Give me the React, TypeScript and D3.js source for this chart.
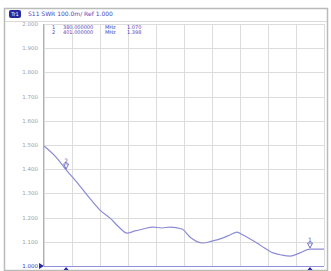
import { useEffect, useRef } from 'react';
import * as d3 from 'd3';

// sweep position (fraction of span) and SWR reading
const SWEEP = [0, 0.043, 0.079, 0.111, 0.157, 0.2, 0.236, 0.271, 0.296, 0.325, 0.354, 0.389, 0.421, 0.45, 0.493, 0.521, 0.568, 0.6, 0.629, 0.664, 0.689, 0.711, 0.743, 0.771, 0.818, 0.85, 0.879, 0.914, 0.95, 0.979, 1];
const SWR = [1.496, 1.45, 1.397, 1.355, 1.289, 1.231, 1.198, 1.157, 1.136, 1.145, 1.153, 1.161, 1.157, 1.161, 1.153, 1.12, 1.095, 1.103, 1.112, 1.128, 1.14, 1.128, 1.107, 1.087, 1.054, 1.045, 1.041, 1.054, 1.07, 1.07, 1.07];
const Y_TICKS = [1.0, 1.1, 1.2, 1.3, 1.4, 1.5, 1.6, 1.7, 1.8, 1.9, 2.0];
const X_TICKS = [0, 0.1, 0.2, 0.3, 0.4, 0.5, 0.6, 0.7, 0.8, 0.9, 1];
const MARKERS = [
  { id: '1', idx: 28, freq: '380.000000', val: '1.070' },
  { id: '2', idx: 2, freq: '401.000000', val: '1.398' },
];
const HEADER = 'S11 SWR 100.0m/ Ref 1.000';

const W = 331;
const H = 271;
const M = { top: 24, right: 7, bottom: 5, left: 44 };

export default function App() {
  const svgRef = useRef<SVGSVGElement>(null);

  useEffect(() => {
    if (!svgRef.current) return;
    const svg = d3.select(svgRef.current);
    svg.selectAll('*').remove();

    const x = d3.scaleLinear([0, 1], [M.left, W - M.right]);
    const y = d3.scaleLinear([1, 2], [H - M.bottom, M.top]);

    svg.append('rect').attr('width', W).attr('height', H).attr('fill', '#fff');

    // outer frame
    svg.append('rect')
      .attr('x', 4.5).attr('y', 8.5).attr('width', W - 8).attr('height', H - 9)
      .attr('fill', 'none').attr('stroke', '#b8bcb8').attr('stroke-width', 1.5);
    svg.append('line')
      .attr('x1', 5).attr('x2', W - 4).attr('y1', 21.5).attr('y2', 21.5)
      .attr('stroke', '#dadada');

    // grid
    const grid = svg.append('g').attr('stroke', '#dcdcdc').attr('stroke-width', 1);
    X_TICKS.forEach(t => {
      grid.append('line')
        .attr('x1', Math.round(x(t)) + 0.5).attr('x2', Math.round(x(t)) + 0.5)
        .attr('y1', y(2)).attr('y2', y(1));
    });
    Y_TICKS.forEach(v => {
      grid.append('line')
        .attr('x1', x(0)).attr('x2', x(1))
        .attr('y1', Math.round(y(v)) + 0.5).attr('y2', Math.round(y(v)) + 0.5);
    });
    svg.append('line')
      .attr('x1', x(0) - 0.5).attr('x2', x(0) - 0.5).attr('y1', y(2)).attr('y2', y(1))
      .attr('stroke', '#b0b0b0');

    // y labels
    Y_TICKS.forEach(v => {
      svg.append('text')
        .attr('x', 38).attr('y', y(v) + 2)
        .attr('text-anchor', 'end')
        .attr('font-family', 'DejaVu Sans')
        .attr('font-size', 5.5)
        .attr('fill', v === 1 ? '#4040c0' : '#a0a0a0')
        .text(v.toFixed(3));
    });

    // reference indicator + bottom line
    svg.append('path')
      .attr('d', `M${x(0) - 5},${y(1) - 3}L${x(0)},${y(1)}L${x(0) - 5},${y(1) + 3}Z`)
      .attr('fill', '#2a2aa0');
    svg.append('line')
      .attr('x1', x(0)).attr('x2', x(1)).attr('y1', y(1) + 0.5).attr('y2', y(1) + 0.5)
      .attr('stroke', '#9090dc');

    // trace
    const pts = SWEEP.map((s, i) => [s, SWR[i]] as [number, number]);
    svg.append('path')
      .attr('d', d3.line<[number, number]>().x(d => x(d[0])).y(d => y(d[1])).curve(d3.curveMonotoneX)(pts) ?? '')
      .attr('fill', 'none')
      .attr('stroke', '#8c8cd6')
      .attr('stroke-width', 1.2);

    // markers
    MARKERS.forEach(m => {
      const mx = x(SWEEP[m.idx]);
      const my = y(SWR[m.idx]);
      svg.append('path')
        .attr('d', `M${mx - 2.5},${my - 6}L${mx + 2.5},${my - 6}L${mx},${my - 1}Z`)
        .attr('fill', 'none').attr('stroke', '#5050b8').attr('stroke-width', 0.8);
      svg.append('text')
        .attr('x', mx).attr('y', my - 7)
        .attr('text-anchor', 'middle')
        .attr('font-family', 'DejaVu Sans').attr('font-size', 6)
        .attr('fill', '#5050b8')
        .text(m.id);
      svg.append('path')
        .attr('d', `M${mx - 2.5},${H - 1}L${mx + 2.5},${H - 1}L${mx},${H - 4}Z`)
        .attr('fill', '#2a2aa0');
    });

    // header
    svg.append('rect')
      .attr('x', 9).attr('y', 10).attr('width', 12).attr('height', 8)
      .attr('rx', 2).attr('fill', '#2a2aa0');
    svg.append('text')
      .attr('x', 15).attr('y', 16)
      .attr('text-anchor', 'middle')
      .attr('font-family', 'DejaVu Sans').attr('font-size', 5)
      .attr('fill', '#fff').text('Tr1');
    svg.append('text')
      .attr('x', 28).attr('y', 16)
      .attr('font-family', 'DejaVu Sans').attr('font-size', 6)
      .attr('fill', '#4848c0').text(HEADER);

    // marker table
    MARKERS.forEach((m, i) => {
      const ty = 29 + i * 5;
      const row = svg.append('g')
        .attr('font-family', 'DejaVu Sans').attr('font-size', 5)
        .attr('fill', '#4848c0');
      row.append('text').attr('x', 52).attr('y', ty).text(m.id);
      row.append('text').attr('x', 63).attr('y', ty).text(m.freq);
      row.append('text').attr('x', 105).attr('y', ty).text('MHz');
      row.append('text').attr('x', 127).attr('y', ty).text(m.val);
    });
  }, []);

  return (
    <div style={{ position: 'fixed', left: 0, top: 0 }}>
      <svg ref={svgRef} width={W} height={H} style={{ display: 'block' }} />
    </div>
  );
}
